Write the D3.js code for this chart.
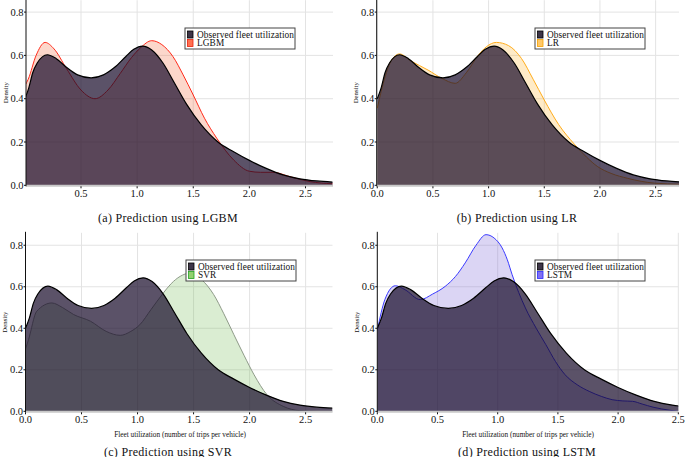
<!DOCTYPE html>
<html>
<head>
<meta charset="utf-8">
<script src="https://cdn.jsdelivr.net/npm/d3@7"></script>
<style>
  body { margin: 0; background: #fff; }
  svg { display: block; }
  text { font-family: 'Liberation Serif', serif; fill: #111; }
</style>
</head>
<body>
<script>
// density curves, [fleet utilization, density]
var observed = [[0,0.40],[0.035,0.45],[0.07,0.52],[0.11,0.565],[0.2,0.603],[0.28,0.585],[0.37,0.545],[0.47,0.51],[0.59,0.496],[0.7,0.51],[0.8,0.545],[0.9,0.595],[0.97,0.628],[1.05,0.643],[1.13,0.625],[1.23,0.565],[1.33,0.475],[1.44,0.375],[1.57,0.28],[1.72,0.20],[1.86,0.155],[2.0,0.115],[2.15,0.078],[2.3,0.048],[2.45,0.03],[2.6,0.02],[2.74,0.015]];
var lgbm = [[0,0.46],[0.03,0.49],[0.1,0.6],[0.18,0.66],[0.26,0.63],[0.37,0.54],[0.5,0.44],[0.625,0.40],[0.74,0.44],[0.85,0.517],[0.95,0.59],[1.03,0.635],[1.13,0.668],[1.22,0.65],[1.32,0.594],[1.41,0.51],[1.5,0.417],[1.6,0.31],[1.71,0.217],[1.86,0.117],[2.0,0.065],[2.1,0.06],[2.21,0.06],[2.36,0.04],[2.54,0.017],[2.74,0.007]];
var lr = [[0,0.356],[0.07,0.5],[0.12,0.57],[0.2,0.607],[0.3,0.575],[0.457,0.532],[0.58,0.494],[0.7,0.471],[0.8,0.52],[0.906,0.60],[0.98,0.64],[1.07,0.66],[1.18,0.645],[1.295,0.586],[1.4,0.49],[1.5,0.394],[1.63,0.28],[1.77,0.19],[1.88,0.13],[1.98,0.086],[2.1,0.055],[2.25,0.032],[2.49,0.01],[2.72,0.005]];
var svr = [[0,0.3],[0.027,0.345],[0.1,0.482],[0.235,0.522],[0.33,0.5],[0.43,0.466],[0.58,0.434],[0.72,0.385],[0.845,0.366],[0.94,0.385],[1.02,0.417],[1.12,0.49],[1.23,0.57],[1.3,0.615],[1.38,0.65],[1.47,0.666],[1.57,0.635],[1.68,0.562],[1.77,0.47],[1.86,0.369],[1.95,0.27],[2.04,0.176],[2.155,0.08],[2.3,0.024],[2.45,0.003],[2.6,0],[2.74,0]];
var lstm = [[0,0.39],[0.064,0.54],[0.15,0.605],[0.23,0.586],[0.356,0.538],[0.46,0.565],[0.564,0.602],[0.65,0.65],[0.73,0.715],[0.82,0.8],[0.903,0.851],[0.97,0.835],[1.037,0.787],[1.08,0.73],[1.12,0.658],[1.23,0.498],[1.32,0.4],[1.40,0.321],[1.48,0.24],[1.56,0.176],[1.66,0.128],[1.76,0.096],[1.86,0.072],[1.95,0.056],[2.04,0.05],[2.12,0.048],[2.2,0.035],[2.29,0.02],[2.43,0.005],[2.5,0]];

var xTicksA = [0.5, 1.0, 1.5, 2.0, 2.5];
var xTicks = [0.0, 0.5, 1.0, 1.5, 2.0, 2.5];
var yTicks = [0.0, 0.2, 0.4, 0.6, 0.8];
var observedLabel = 'Observed fleet utilization';
var xLabel = 'Fleet utilization (number of trips per vehicle)';

var panels = [
  {model: 'LGBM', pred: lgbm, line: '#ff2a1a', fill: 'rgba(245,110,70,0.28)', sw: '#ff7050', swStroke: '#e8200a',
   xr: [26, 333], xd: [0.01, 2.745], yr: [185.3, 0.2], yd: [0, 0.855], ticks: xTicksA,
   caption: '(a) Prediction using LGBM', capX: 168, capY: 221.5, xlab: false, leg: [185, 28]},
  {model: 'LR', pred: lr, line: '#ffac1c', fill: 'rgba(255,165,0,0.22)', sw: '#ffc868', swStroke: '#f5a000',
   xr: [376.7, 679], xd: [-0.005, 2.71], yr: [185.3, 0.2], yd: [0, 0.855], ticks: xTicks,
   caption: '(b) Prediction using LR', capX: 517, capY: 221.5, xlab: false, leg: [535, 28]},
  {model: 'SVR', pred: svr, line: '#8e9a88', fill: 'rgba(120,190,90,0.27)', sw: '#92d070', swStroke: '#22a022',
   xr: [25.5, 332.5], xd: [0, 2.74], yr: [411.3, 232.8], yd: [0, 0.86], ticks: xTicks,
   caption: '(c) Prediction using SVR', capX: 168, capY: 455.5, xlab: true, labX: 180, leg: [186, 260]},
  {model: 'LSTM', pred: lstm, line: '#3a3aff', fill: 'rgba(125,105,215,0.28)', sw: '#8070f0', swStroke: '#2a2aff',
   xr: [377.3, 678.3], xd: [0, 2.5], yr: [411.3, 232.8], yd: [0, 0.86], ticks: xTicks,
   caption: '(d) Prediction using LSTM', capX: 527, capY: 455.5, xlab: true, labX: 528, leg: [535, 260]}
];

var svg = d3.select('body').append('svg')
  .attr('width', 685)
  .attr('height', 457);

panels.forEach(function (p, i) {
  var x = d3.scaleLinear().domain(p.xd).range(p.xr);
  var y = d3.scaleLinear().domain(p.yd).range(p.yr);
  var g = svg.append('g');

  var clipId = 'clip' + i;
  svg.append('clipPath').attr('id', clipId)
    .append('rect')
    .attr('x', p.xr[0]).attr('y', p.yr[1])
    .attr('width', p.xr[1] - p.xr[0]).attr('height', p.yr[0] - p.yr[1]);

  // grid
  g.selectAll('.vgrid').data(p.ticks).enter().append('line')
    .attr('x1', function (d) { return x(d); }).attr('x2', function (d) { return x(d); })
    .attr('y1', p.yr[0]).attr('y2', p.yr[1])
    .attr('stroke', '#e3e3e3').attr('stroke-width', 1);
  g.selectAll('.hgrid').data(yTicks.slice(1)).enter().append('line')
    .attr('x1', p.xr[0]).attr('x2', p.xr[1])
    .attr('y1', function (d) { return y(d); }).attr('y2', function (d) { return y(d); })
    .attr('stroke', '#e3e3e3').attr('stroke-width', 1);

  var area = d3.area()
    .x(function (d) { return x(d[0]); })
    .y0(y(0))
    .y1(function (d) { return y(d[1]); })
    .curve(d3.curveMonotoneX);
  var line = d3.line()
    .x(function (d) { return x(d[0]); })
    .y(function (d) { return y(d[1]); })
    .curve(d3.curveMonotoneX);

  var plot = g.append('g').attr('clip-path', 'url(#' + clipId + ')');

  plot.append('path').datum(p.pred)
    .attr('d', area).attr('fill', p.fill);
  plot.append('path').datum(p.pred)
    .attr('d', line).attr('fill', 'none')
    .attr('stroke', p.line).attr('stroke-width', 1);

  plot.append('path').datum(observed)
    .attr('d', area).attr('fill', 'rgba(21,8,40,0.7)');
  plot.append('path').datum(observed)
    .attr('d', line).attr('fill', 'none')
    .attr('stroke', '#000').attr('stroke-width', 1.2);

  // axes
  g.append('line')
    .attr('x1', p.xr[0]).attr('x2', p.xr[1])
    .attr('y1', y(0) + 0.5).attr('y2', y(0) + 0.5)
    .attr('stroke', '#c8c8c8').attr('stroke-width', 2);
  g.append('line')
    .attr('x1', p.xr[0]).attr('x2', p.xr[0])
    .attr('y1', p.yr[0] + 1).attr('y2', p.yr[1] - 1)
    .attr('stroke', '#111').attr('stroke-width', 1);

  g.selectAll('.ytick').data(yTicks).enter().append('line')
    .attr('x1', p.xr[0] - 2).attr('x2', p.xr[0])
    .attr('y1', function (d) { return y(d); }).attr('y2', function (d) { return y(d); })
    .attr('stroke', '#111');
  g.selectAll('.ylab').data(yTicks).enter().append('text')
    .attr('x', p.xr[0] - 2.5)
    .attr('y', function (d) { return y(d) + 3.5; })
    .attr('text-anchor', 'end')
    .attr('font-size', '10.5px')
    .text(function (d) { return d3.format('.1f')(d); });

  g.selectAll('.xtick').data(p.ticks).enter().append('line')
    .attr('x1', function (d) { return x(d); }).attr('x2', function (d) { return x(d); })
    .attr('y1', y(0) + 1).attr('y2', y(0) + 3)
    .attr('stroke', '#111');
  g.selectAll('.xlab').data(p.ticks).enter().append('text')
    .attr('x', function (d) { return x(d); })
    .attr('y', y(0) + 12)
    .attr('text-anchor', 'middle')
    .attr('font-size', '10.5px')
    .text(function (d) { return d3.format('.1f')(d); });

  var yMid = (p.yr[0] + p.yr[1]) / 2;
  g.append('text')
    .attr('transform', 'translate(' + (p.xr[0] - 18.5) + ',' + yMid + ') rotate(-90)')
    .attr('text-anchor', 'middle')
    .attr('font-size', '6.8px')
    .text('Density');

  if (p.xlab) {
    g.append('text')
      .attr('x', p.labX).attr('y', 436.5)
      .attr('text-anchor', 'middle')
      .attr('font-size', '7.3px')
      .text(xLabel);
  }

  g.append('text')
    .attr('x', p.capX).attr('y', p.capY)
    .attr('text-anchor', 'middle')
    .attr('font-size', '12px')
    .attr('letter-spacing', '0.3px')
    .text(p.caption);

  // legend
  var lg = g.append('g').attr('transform', 'translate(' + p.leg[0] + ',' + p.leg[1] + ')');
  lg.append('rect')
    .attr('x', 0).attr('y', 0).attr('width', 110).attr('height', 21)
    .attr('fill', '#fff').attr('stroke', '#444').attr('stroke-width', 1);
  var items = [
    {label: observedLabel, fill: '#3d3548', stroke: '#000'},
    {label: p.model, fill: p.sw, stroke: p.swStroke}
  ];
  items.forEach(function (it, k) {
    lg.append('rect')
      .attr('x', 2.5).attr('y', 3 + k * 8.5)
      .attr('width', 5.5).attr('height', 7)
      .attr('fill', it.fill).attr('stroke', it.stroke).attr('stroke-width', 0.8);
    lg.append('text')
      .attr('x', 12).attr('y', 9.6 + k * 8.5)
      .attr('font-size', '9.3px')
      .attr('letter-spacing', '0.1px')
      .text(it.label);
  });
});
</script>
</body>
</html>
